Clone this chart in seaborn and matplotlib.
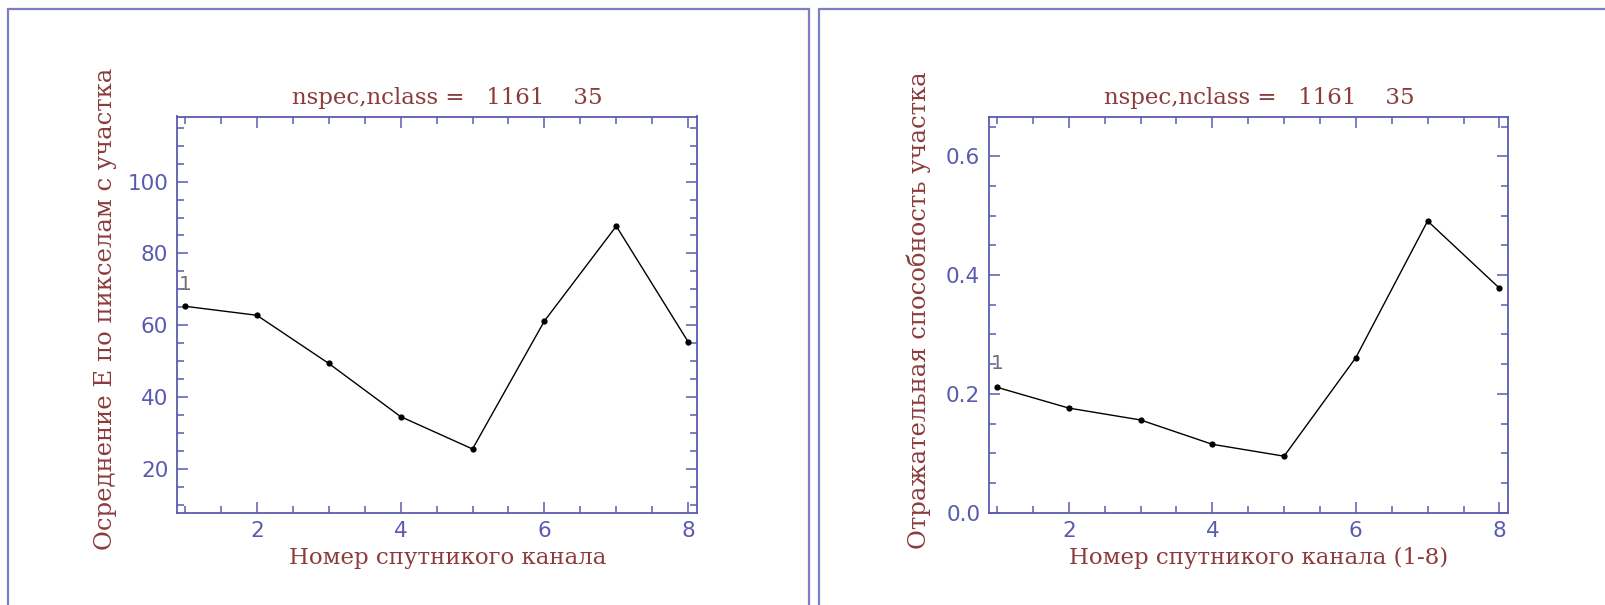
import numpy as np
import pandas as pd
import matplotlib
matplotlib.use("Agg")
import matplotlib.pyplot as plt
from matplotlib.ticker import MultipleLocator, FormatStrFormatter
from matplotlib.patches import Rectangle
import seaborn as sns

# ---- data ----
channels = [1, 2, 3, 4, 5, 6, 7, 8]
mean_e = [65.3, 62.8, 49.4, 34.6, 25.6, 61.2, 87.6, 55.4]
reflectance = [0.211, 0.176, 0.156, 0.115, 0.095, 0.261, 0.491, 0.378]

title_text = "nspec,nclass =   1161    35"
xlabel_left = "Номер спутникого канала"
xlabel_right = "Номер спутникого канала (1-8)"
ylabel_left = "Осреднение E по пикселам с участка"
ylabel_right = "Отражательная способность участка"
point_label = "1"

sns.set_style("white")
plt.rcParams["font.family"] = ["DejaVu Sans"]

W, H = 1606, 605
fig = plt.figure(figsize=(W / 100, H / 100), dpi=100)
fig.patch.set_facecolor("white")

AX_COL = "#5a5ab0"
LBL_COL = "#8b3b3b"
FRAME_COL = "#7e7ec4"

def fx(px):
    return px / W

def fy(py):
    return 1 - py / H

# panel frames
fig.add_artist(Rectangle((fx(8), fy(700)), fx(809 - 8), (700 - 9) / H,
                         transform=fig.transFigure, fill=False,
                         edgecolor=FRAME_COL, linewidth=1.6, clip_on=False))
fig.add_artist(Rectangle((fx(819), fy(700)), fx(900), (700 - 9) / H,
                         transform=fig.transFigure, fill=False,
                         edgecolor=FRAME_COL, linewidth=1.6, clip_on=False))

def make_axes(left_px, right_px, top_px=116.5, bottom_px=512.6):
    return fig.add_axes([fx(left_px), fy(bottom_px), fx(right_px - left_px),
                         (bottom_px - top_px) / H])

def style_axes(ax, ymajor, yminor, yfmt):
    for sp in ax.spines.values():
        sp.set_color(AX_COL)
        sp.set_linewidth(1.3)
    ax.xaxis.set_major_locator(MultipleLocator(2))
    ax.xaxis.set_minor_locator(MultipleLocator(0.5))
    ax.yaxis.set_major_locator(MultipleLocator(ymajor))
    ax.yaxis.set_minor_locator(MultipleLocator(yminor))
    ax.yaxis.set_major_formatter(FormatStrFormatter(yfmt))
    ax.tick_params(which="both", direction="in", top=True, right=True,
                   bottom=True, left=True,
                   color=AX_COL, labelcolor=AX_COL, labelsize=15.5, width=1.1)
    ax.tick_params(which="major", length=8, pad=6)
    ax.tick_params(which="minor", length=5)
    ax.set_xlabel("")
    ax.set_ylabel("")
    ax.grid(False)

# ---- left panel ----
ax1 = make_axes(176.7, 696.8)
sns.lineplot(x=channels, y=mean_e, ax=ax1, color="black", linewidth=1.0,
             marker="o", markersize=4.5, markeredgewidth=0)
ax1.set_xlim(0.885, 8.12)
ax1.set_ylim(7.9, 118.1)
style_axes(ax1, 20, 5, "%d")
ax1.annotate(point_label, (channels[0], mean_e[0]), xytext=(0, 16),
             textcoords="offset points", ha="center", va="center",
             color="#707070", fontsize=14.5)

# ---- right panel ----
ax2 = make_axes(988.7, 1508.0)
sns.lineplot(x=channels, y=reflectance, ax=ax2, color="black", linewidth=1.0,
             marker="o", markersize=4.5, markeredgewidth=0)
ax2.set_xlim(0.884, 8.12)
ax2.set_ylim(0.0, 0.667)
style_axes(ax2, 0.2, 0.05, "%.1f")
ax2.annotate(point_label, (channels[0], reflectance[0]), xytext=(0, 17),
             textcoords="offset points", ha="center", va="center",
             color="#707070", fontsize=14.5)

serif = ["DejaVu Serif"]
# titles
fig.text(fx(447), fy(104), title_text, ha="center", va="baseline",
         color=LBL_COL, fontsize=16.5, family=serif)
fig.text(fx(1259), fy(104), title_text, ha="center", va="baseline",
         color=LBL_COL, fontsize=16.5, family=serif)
# x labels
fig.text(fx(448), fy(558), xlabel_left, ha="center", va="center",
         color=LBL_COL, fontsize=16.5, family=serif)
fig.text(fx(1259), fy(558), xlabel_right, ha="center", va="center",
         color=LBL_COL, fontsize=16.5, family=serif)
# y labels
fig.text(fx(106), fy(309), ylabel_left, ha="center", va="center",
         rotation=90, color=LBL_COL, fontsize=17.5, family=serif)
fig.text(fx(919), fy(310), ylabel_right, ha="center", va="center",
         rotation=90, color=LBL_COL, fontsize=17.5, family=serif)

fig.savefig("out.png", dpi=100, facecolor="white")
